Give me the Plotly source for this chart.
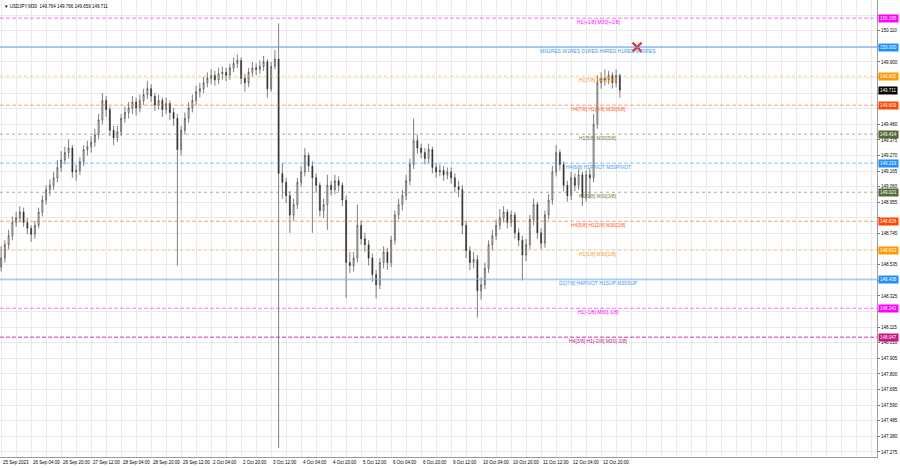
import plotly.graph_objects as go

# ---------------- data (2-hour candles, USDJPY) ----------------
opens = [148.52, 148.58, 148.67, 148.73, 148.82, 148.85, 148.89, 148.82, 148.78, 148.74,
         148.80, 148.89, 148.97, 149.04, 149.07, 149.12, 149.19, 149.24, 149.29, 149.32,
         149.16, 149.17, 149.23, 149.31, 149.33, 149.36, 149.41, 149.51, 149.64, 149.58,
         149.44, 149.39, 149.43, 149.52, 149.56, 149.59, 149.63, 149.59, 149.64, 149.68,
         149.72, 149.67, 149.61, 149.64, 149.58, 149.62, 149.56, 149.52, 149.31, 149.44,
         149.52, 149.59, 149.64, 149.70, 149.72, 149.76, 149.79, 149.81, 149.78, 149.82,
         149.83, 149.81, 149.86, 149.89, 149.91, 149.79, 149.76, 149.83, 149.86, 149.85,
         149.87, 149.90, 149.72, 149.87, 149.92, 149.15, 149.09, 149.00, 148.87, 148.94,
         149.09, 149.16, 149.27, 149.20, 149.12, 149.07, 148.90, 148.94, 149.07, 149.04,
         149.10, 149.07, 148.97, 148.55, 148.53, 148.58, 148.80, 148.71, 148.67, 148.58,
         148.47, 148.40, 148.55, 148.62, 148.55, 148.70, 148.87, 148.94, 149.00, 149.10,
         149.21, 149.37, 149.32, 149.29, 149.25, 149.31, 149.19, 149.16, 149.17, 149.14,
         149.16, 149.12, 149.06, 149.04, 148.80, 148.63, 148.55, 148.57, 148.36, 148.40,
         148.51, 148.67, 148.73, 148.80, 148.85, 148.89, 148.82, 148.87, 148.75, 148.70,
         148.60, 148.67, 148.84, 148.94, 148.75, 148.68, 148.87, 148.97, 149.16, 149.29,
         149.21, 149.07, 149.00, 149.12, 149.07, 149.14, 148.99, 149.14, 149.12, 149.48,
         149.76, 149.79, 149.78, 149.81, 149.76, 149.81]
highs = [148.66, 148.70, 148.77, 148.86, 148.89, 148.93, 148.92, 148.85, 148.80, 148.83,
         148.92, 149.00, 149.07, 149.11, 149.16, 149.24, 149.30, 149.33, 149.38, 149.34,
         149.21, 149.26, 149.34, 149.37, 149.40, 149.45, 149.55, 149.69, 149.67, 149.60,
         149.47, 149.47, 149.55, 149.60, 149.63, 149.67, 149.66, 149.68, 149.72, 149.77,
         149.75, 149.69, 149.68, 149.66, 149.66, 149.64, 149.59, 149.55, 149.47, 149.56,
         149.63, 149.68, 149.74, 149.76, 149.80, 149.83, 149.85, 149.84, 149.86, 149.87,
         149.86, 149.89, 149.93, 149.95, 149.93, 149.82, 149.86, 149.90, 149.89, 149.91,
         149.94, 149.92, 149.90, 149.98, 150.16, 149.22, 149.12, 149.03, 148.98, 149.12,
         149.20, 149.32, 149.29, 149.23, 149.15, 149.09, 148.98, 149.14, 149.10, 149.14,
         149.13, 149.09, 149.00, 148.62, 148.62, 148.94, 148.83, 148.75, 148.70, 148.61,
         148.50, 148.58, 148.66, 148.65, 148.73, 148.90, 148.98, 149.04, 149.14, 149.25,
         149.52, 149.41, 149.35, 149.32, 149.35, 149.33, 149.22, 149.21, 149.20, 149.19,
         149.19, 149.15, 149.10, 149.07, 148.83, 148.66, 148.62, 148.60, 148.45, 148.55,
         148.70, 148.77, 148.84, 148.91, 148.93, 148.91, 148.90, 148.89, 148.78, 148.73,
         148.71, 148.87, 148.98, 148.96, 148.78, 148.90, 149.01, 149.20, 149.34, 149.31,
         149.23, 149.10, 149.16, 149.15, 149.18, 149.16, 149.17, 149.18, 149.55, 149.81,
         149.83, 149.85, 149.84, 149.83, 149.85, 149.82]
lows = [148.49, 148.55, 148.64, 148.70, 148.79, 148.82, 148.79, 148.74, 148.69, 148.71,
        148.78, 148.86, 148.94, 149.00, 149.04, 149.09, 149.16, 149.21, 149.25, 149.12,
        149.10, 149.14, 149.20, 149.27, 149.29, 149.33, 149.38, 149.48, 149.53, 149.40,
        149.34, 149.36, 149.40, 149.49, 149.52, 149.55, 149.54, 149.56, 149.61, 149.65,
        149.63, 149.57, 149.58, 149.53, 149.55, 149.51, 149.47, 148.53, 149.27, 149.41,
        149.49, 149.56, 149.61, 149.66, 149.69, 149.73, 149.75, 149.74, 149.75, 149.78,
        149.77, 149.78, 149.83, 149.86, 149.75, 149.70, 149.73, 149.80, 149.81, 149.82,
        149.84, 149.66, 149.70, 149.85, 147.30, 148.98, 148.95, 148.75, 148.83, 148.91,
        149.06, 149.13, 149.16, 148.75, 149.02, 148.86, 148.85, 148.77, 149.00, 149.01,
        149.03, 148.93, 148.31, 148.48, 148.49, 148.55, 148.67, 148.62, 148.53, 148.42,
        148.31, 148.37, 148.51, 148.50, 148.52, 148.67, 148.84, 148.90, 148.97, 149.07,
        149.18, 149.28, 149.25, 149.21, 149.22, 149.15, 149.12, 149.13, 149.10, 149.11,
        149.08, 149.02, 148.99, 148.74, 148.58, 148.50, 148.51, 148.18, 148.30, 148.37,
        148.48, 148.63, 148.70, 148.77, 148.82, 148.78, 148.79, 148.71, 148.66, 148.43,
        148.56, 148.64, 148.80, 148.71, 148.64, 148.65, 148.84, 148.94, 149.13, 149.17,
        149.03, 148.96, 148.97, 149.03, 149.04, 148.93, 148.96, 148.98, 149.09, 149.45,
        149.72, 149.74, 149.75, 149.72, 149.73, 149.659]
closes = [148.58, 148.67, 148.73, 148.82, 148.85, 148.89, 148.82, 148.78, 148.74, 148.80,
          148.89, 148.97, 149.04, 149.07, 149.12, 149.19, 149.24, 149.29, 149.32, 149.16,
          149.17, 149.23, 149.31, 149.33, 149.36, 149.41, 149.51, 149.64, 149.58, 149.44,
          149.39, 149.43, 149.52, 149.56, 149.59, 149.63, 149.59, 149.64, 149.68, 149.72,
          149.67, 149.61, 149.64, 149.58, 149.62, 149.56, 149.52, 149.31, 149.44, 149.52,
          149.59, 149.64, 149.70, 149.72, 149.76, 149.79, 149.81, 149.78, 149.82, 149.83,
          149.81, 149.86, 149.89, 149.91, 149.79, 149.76, 149.83, 149.86, 149.85, 149.87,
          149.90, 149.72, 149.87, 149.92, 149.15, 149.09, 149.00, 148.87, 148.94, 149.09,
          149.16, 149.27, 149.20, 149.12, 149.07, 148.90, 148.94, 149.07, 149.04, 149.10,
          149.07, 148.97, 148.55, 148.53, 148.58, 148.80, 148.71, 148.67, 148.58, 148.47,
          148.40, 148.55, 148.62, 148.55, 148.70, 148.87, 148.94, 149.00, 149.10, 149.21,
          149.37, 149.32, 149.29, 149.25, 149.31, 149.19, 149.16, 149.17, 149.14, 149.16,
          149.12, 149.06, 149.04, 148.80, 148.63, 148.55, 148.57, 148.36, 148.40, 148.51,
          148.67, 148.73, 148.80, 148.85, 148.89, 148.82, 148.87, 148.75, 148.70, 148.60,
          148.67, 148.84, 148.94, 148.75, 148.68, 148.87, 148.97, 149.16, 149.29, 149.21,
          149.07, 149.00, 149.12, 149.07, 149.14, 148.99, 149.14, 149.12, 149.48, 149.76,
          149.79, 149.78, 149.81, 149.76, 149.81, 149.711]
bar_index = list(range(len(closes)))

time_labels = ["25 Sep 2023", "26 Sep 04:00", "26 Sep 20:00", "27 Sep 12:00", "28 Sep 04:00",
               "28 Sep 20:00", "29 Sep 12:00", "2 Oct 04:00", "2 Oct 20:00", "3 Oct 12:00",
               "4 Oct 04:00", "4 Oct 20:00", "5 Oct 12:00", "6 Oct 04:00", "6 Oct 20:00",
               "9 Oct 12:00", "10 Oct 04:00", "10 Oct 20:00", "11 Oct 12:00", "12 Oct 04:00",
               "12 Oct 20:00"]
time_label_pos = [0, 8, 16, 24, 32, 40, 48, 56, 64, 72, 80, 88, 96, 104, 112, 120, 128,
                  136, 144, 152, 160]

price_ticks = [147.275, 147.380, 147.485, 147.590, 147.695, 147.800, 147.905, 148.010,
               148.115, 148.220, 148.325, 148.430, 148.535, 148.640, 148.745, 148.850,
               148.955, 149.060, 149.165, 149.270, 149.375, 149.480, 149.585, 149.690,
               149.795, 149.900, 150.005, 150.110, 150.215]

levels = [150.195, 150.000, 149.805, 149.609, 149.414, 149.219, 149.023, 148.828,
          148.633, 148.438, 148.242, 148.047]
level_names = ["H1[+1/8] M30[+1/8]",
               "MN1RES W1RES D1RES H4RES H1RES M30RES",
               "H1[7/8] M30[7/8]",
               "H4[7/8] H1[6/8] M30[6/8]",
               "H1[5/8] M30[5/8]",
               "H4[6/8] H1PIVOT M30PIVOT",
               "H1[3/8] M30[3/8]",
               "H4[5/8] H1[2/8] M30[2/8]",
               "H1[1/8] M30[1/8]",
               "D1[7/8] H4PIVOT H1SUP M30SUP",
               "H1[-1/8] M30[-1/8]",
               "H4[3/8] H1[-2/8] M30[-2/8]"]

last_price = 149.711
header_text = "USDJPY,M30  149.764 149.766 149.659 149.711"
cross_x = [169.6]
cross_y = [150.000]

# ---------------- styles ----------------
level_colors = ["#FF00FF", "#1E90FF", "#FF9800", "#FF4500", "#556B2F", "#1E90FF",
                "#556B2F", "#FF4500", "#FF9800", "#1E90FF", "#FF00FF", "#C71585"]
level_line_colors = ["rgba(255,0,255,0.55)", "#5C9FEA", "rgba(255,160,40,0.5)",
                     "rgba(255,90,40,0.6)", "rgba(110,130,70,0.6)", "rgba(30,144,255,0.55)",
                     "rgba(110,130,70,0.6)", "rgba(255,90,40,0.6)", "rgba(255,160,40,0.5)",
                     "#7DB3EE", "rgba(255,0,255,0.55)", "rgba(210,40,170,0.65)"]
level_dash = ["4px,2px", "solid", "3px,3px", "4px,2px", "3px,3px", "4px,2px", "3px,3px",
              "4px,2px", "3px,3px", "solid", "4px,2px", "4px,2px"]
level_width = [1, 1, 1, 1, 1, 1, 1, 1, 1, 1, 1, 1.5]
level_text_colors = ["#FF00FF", "#3A9BF0", "#F39A1E", "#FF5A28", "#6B7F3A", "#3A9BF0",
                     "#6B7F3A", "#FF5A28", "#F39A1E", "#3A9BF0", "#FF00FF", "#C71585"]

FONT = "Liberation Sans, Arial, sans-serif"
X_RANGE = [-0.3, 233.57]
Y_RANGE = [147.241, 150.317]
LABEL_X = 159.2
PX_PER_UNIT = 148.6

# price scale labels that sit under a coloured price box are not shown
box_prices = levels + [last_price]
tick_text = []
for t in price_ticks:
    if min(abs(t - b) for b in box_prices) * PX_PER_UNIT < 4:
        tick_text.append("")
    else:
        tick_text.append("%.3f" % t)

fig = go.Figure()
fig.add_trace(go.Candlestick(
    x=bar_index, open=opens, high=highs, low=lows, close=closes,
    increasing=dict(line=dict(color="#2a2a2a", width=0.6), fillcolor="#ffffff"),
    decreasing=dict(line=dict(color="#2a2a2a", width=0.6), fillcolor="#2a2a2a"),
    whiskerwidth=0, hoverinfo="skip", showlegend=False,
))

fig.add_trace(go.Scatter(
    x=cross_x, y=cross_y, mode="markers",
    marker=dict(symbol="x-thin-open", size=9, color="#E8322A",
                line=dict(width=2.2, color="#E8322A")),
    hoverinfo="skip", showlegend=False,
))

shapes = []
annotations = []
for lv, name, lc, dash, w, tc, bc in zip(levels, level_names, level_line_colors, level_dash,
                                          level_width, level_text_colors, level_colors):
    shapes.append(dict(type="line", xref="x", x0=X_RANGE[0], x1=X_RANGE[1], yref="y",
                       y0=lv, y1=lv, line=dict(color=lc, width=w, dash=dash), layer="above"))
    annotations.append(dict(x=LABEL_X, y=lv, xref="x", yref="y", text=name, showarrow=False,
                            xanchor="center", yanchor="top", yshift=1,
                            font=dict(family=FONT, size=5, color=tc)))
    annotations.append(dict(x=1, y=lv, xref="paper", yref="y", text="%.3f" % lv,
                            showarrow=False, xanchor="left", yanchor="middle", xshift=1,
                            bgcolor=bc, borderpad=1,
                            font=dict(family=FONT, size=4.5, color="#ffffff")))

annotations.append(dict(x=1, y=last_price, xref="paper", yref="y", text="%.3f" % last_price,
                        showarrow=False, xanchor="left", yanchor="middle", xshift=1,
                        bgcolor="#000000", borderpad=1,
                        font=dict(family=FONT, size=4.5, color="#ffffff")))

for pos, lab in zip(time_label_pos, time_labels):
    annotations.append(dict(x=pos, y=0, xref="x", yref="paper", text=lab, showarrow=False,
                            xanchor="left", yanchor="top", xshift=0, yshift=-1,
                            font=dict(family=FONT, size=4.5, color="#000000")))

annotations.append(dict(x=0, y=1, xref="paper", yref="paper", text="\u25BC " + header_text,
                        showarrow=False, xanchor="left", yanchor="top", xshift=2, yshift=-2,
                        font=dict(family=FONT, size=4.5, color="#000000")))

fig.update_layout(
    width=900, height=468,
    margin=dict(l=0, r=23, t=0, b=11, autoexpand=False),
    paper_bgcolor="#ffffff", plot_bgcolor="#ffffff",
    shapes=shapes, annotations=annotations,
    boxgap=0.62,
    xaxis=dict(range=X_RANGE, rangeslider=dict(visible=False), showgrid=True,
               gridcolor="#EAEAEA", gridwidth=1, tick0=0, dtick=4, showticklabels=False,
               showline=True, linecolor="#9A9A9A", linewidth=1, mirror=True,
               zeroline=False, ticks="", fixedrange=True),
    yaxis=dict(range=Y_RANGE, side="right", tickmode="array", tickvals=price_ticks,
               ticktext=tick_text,
               tickfont=dict(family=FONT, size=4.5, color="#000000"),
               showgrid=True, gridcolor="#EAEAEA", gridwidth=1,
               showline=True, linecolor="#9A9A9A", linewidth=1, mirror=True,
               ticks="outside", ticklen=2, tickcolor="#777777",
               zeroline=False, automargin=False, fixedrange=True),
    font=dict(family=FONT),
)

fig.write_html("out.html", config={"displayModeBar": False},
               post_script="document.body.style.margin='0';document.body.style.padding='0';")
